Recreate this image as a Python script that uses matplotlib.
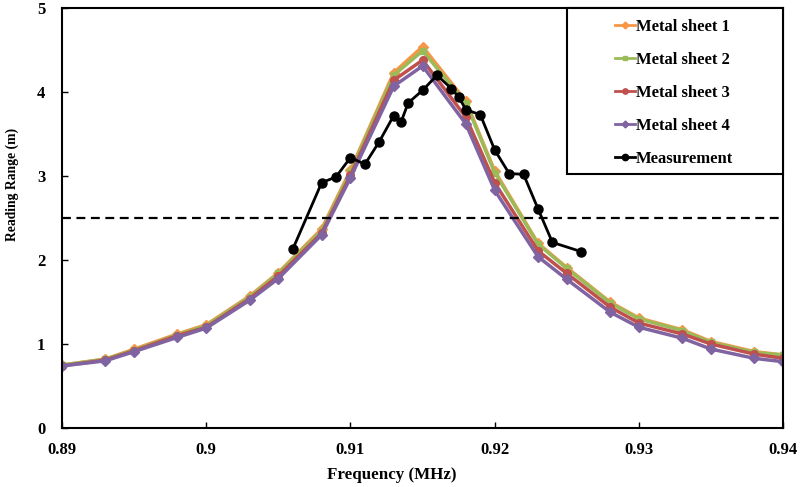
import matplotlib.pyplot as plt
from matplotlib.patches import Rectangle

plt.rcParams['font.family'] = ['Liberation Serif', 'DejaVu Serif']
plt.rcParams['font.weight'] = 'bold'

# frequency points of the simulated curves (MHz)
freq = [0.89, 0.893, 0.895, 0.898, 0.9, 0.903, 0.905, 0.908, 0.91, 0.913, 0.915,
        0.918, 0.92, 0.923, 0.925, 0.928, 0.93, 0.933, 0.935, 0.938, 0.94]

sheet1 = [0.75, 0.82, 0.94, 1.12, 1.23, 1.57, 1.85, 2.37, 3.07, 4.23, 4.54,
          3.89, 3.06, 2.20, 1.91, 1.50, 1.31, 1.17, 1.03, 0.91, 0.87]
sheet2 = [0.75, 0.82, 0.93, 1.11, 1.22, 1.56, 1.84, 2.35, 3.05, 4.20, 4.49,
          3.87, 3.04, 2.19, 1.90, 1.49, 1.30, 1.16, 1.02, 0.90, 0.87]
sheet3 = [0.74, 0.81, 0.92, 1.10, 1.20, 1.54, 1.81, 2.32, 3.01, 4.14, 4.38,
          3.70, 2.92, 2.11, 1.84, 1.44, 1.25, 1.12, 1.00, 0.88, 0.83]
sheet4 = [0.74, 0.80, 0.91, 1.08, 1.19, 1.52, 1.78, 2.30, 2.98, 4.07, 4.31,
          3.62, 2.83, 2.04, 1.77, 1.38, 1.20, 1.07, 0.94, 0.83, 0.79]

# measured reading range
meas_freq = [0.906, 0.908, 0.909, 0.910, 0.911, 0.912, 0.913, 0.9135, 0.914, 0.915, 0.916,
             0.917, 0.9175, 0.918, 0.919, 0.920, 0.921, 0.922, 0.923, 0.924, 0.926]
meas = [2.13, 2.92, 2.99, 3.22, 3.14, 3.41, 3.72, 3.64, 3.87, 4.02, 4.20,
        4.04, 3.94, 3.79, 3.73, 3.31, 3.03, 3.02, 2.61, 2.21, 2.10]

threshold = 2.5

fig = plt.figure(figsize=(8, 4.87), dpi=100)
ax = fig.add_axes([0.0775, 0.121, 0.9015, 0.8626])

ax.plot(freq, sheet1, color='#F79646', lw=2.5, marker='D', ms=5, label='Metal sheet 1')
ax.plot(freq, sheet2, color='#9BBB59', lw=2.5, marker='s', ms=5, label='Metal sheet 2')
ax.plot(freq, sheet3, color='#C0504D', lw=2.5, marker='o', ms=5.5, label='Metal sheet 3')
ax.plot(freq, sheet4, color='#8064A2', lw=2.5, marker='D', ms=5, label='Metal sheet 4')
ax.plot(meas_freq, meas, color='black', lw=2, marker='o', ms=6.5, label='Measurement')
ax.plot([0.89, 0.94], [threshold, threshold], color='black', lw=1.6, ls=(0, (4, 2.5)))

ax.set_xlim(0.89, 0.94)
ax.set_ylim(0, 5)
ax.set_xticks([0.89, 0.9, 0.91, 0.92, 0.93, 0.94])
ax.set_xticklabels(['0.89', '0.9', '0.91', '0.92', '0.93', '0.94'])
ax.set_yticks([0, 1, 2, 3, 4, 5])
ax.tick_params(direction='in', length=4, width=1, labelsize=12, pad=10)
ax.tick_params(axis='y', pad=12)
for s in ax.spines.values():
    s.set_linewidth(1.5)

fig.text(392 / 800, 1 - 475 / 487, 'Frequency (MHz)', fontsize=12.2, fontweight='bold',
         ha='center', va='center')
fig.text(12 / 800, 1 - 184 / 487, 'Reading Range (m)', fontsize=9.8, fontweight='bold',
         ha='center', va='center', rotation=90)

# legend box (Excel style, wider than its entries)
ax.add_patch(Rectangle((0.700, 0.605), 0.300, 0.395, transform=ax.transAxes,
                       facecolor='white', edgecolor='black', lw=1.5, zorder=5, clip_on=False))
leg = ax.legend(loc='center', bbox_to_anchor=(0.849, 0.797), fontsize=12, frameon=False,
                borderaxespad=0, borderpad=0, handlelength=1.2,
                handletextpad=0.05, labelspacing=1.02, markerscale=0.7)
leg.set_zorder(6)
for h in leg.get_lines():
    h.set_linewidth(2)

fig.savefig('out.png', dpi=100)
